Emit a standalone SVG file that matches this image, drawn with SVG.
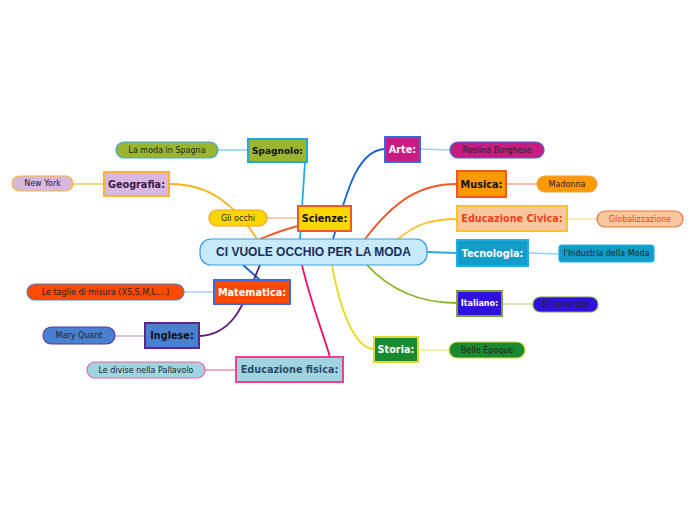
<svg xmlns="http://www.w3.org/2000/svg" width="696" height="520" viewBox="0 0 696 520">
<style>
.t{font-family:"DejaVu Sans",Verdana,sans-serif;font-weight:bold;font-size:9.7px;text-anchor:middle;dominant-baseline:central}
.s{font-family:"DejaVu Sans",Verdana,sans-serif;font-size:8px;text-anchor:middle;dominant-baseline:central;fill:#222}
.n{stroke-width:2}
.p{stroke-width:1.2}
.c{fill:none;stroke-width:1.8}
.l{fill:none;stroke-width:1.4}
</style>
<rect width="696" height="520" fill="#ffffff"/>
<g id="connectors">
<path class="c" d="M300,239 C302,210 303,190 305,162" stroke="#1eaee6"/>
<path class="c" d="M170,184 C210,184 235,205 257,239" stroke="#f7b31c"/>
<path class="c" d="M260,239 C275,233 285,229 298,226" stroke="#f0582a"/>
<path class="c" d="M333,239 C345,200 355,150 385,149" stroke="#1a5fd4"/>
<path class="c" d="M365,239 C395,200 420,184 457,184" stroke="#f0582a"/>
<path class="c" d="M398,239 C415,225 430,219 457,219" stroke="#ffc02a"/>
<path class="c" d="M427,252 L457,253" stroke="#2aa6e0"/>
<path class="c" d="M367,265 C390,290 420,303 457,303" stroke="#86b21e"/>
<path class="c" d="M332,265 C340,310 355,349 374,349" stroke="#e8d81c"/>
<path class="c" d="M302,265 C310,300 322,330 330,357" stroke="#f0106a"/>
<path class="c" d="M243,265 L260,280" stroke="#1a5fd4"/>
<path class="c" d="M260,265 C245,300 235,335 199,336" stroke="#5a1a7a"/>
<path class="l" d="M218,150 L248,150" stroke="#7fd0f0"/>
<path class="l" d="M73,184 L104,184" stroke="#f9c44d"/>
<path class="l" d="M267,218 L298,218" stroke="#f9b6a0"/>
<path class="l" d="M420,149 L450,150" stroke="#a6c8f2"/>
<path class="l" d="M506,184 L537,184" stroke="#f8a090"/>
<path class="l" d="M567,219 L597,219" stroke="#fde2a0"/>
<path class="l" d="M528,253 L559,254" stroke="#8ad5f5"/>
<path class="l" d="M502,304 L533,304" stroke="#c8e090"/>
<path class="l" d="M418,350 L449,350" stroke="#f0e890"/>
<path class="l" d="M205,370 L236,370" stroke="#f080b0"/>
<path class="l" d="M184,292 L214,292" stroke="#a6c8f2"/>
<path class="l" d="M115,336 L145,336" stroke="#c8b0d8"/>
</g>
<g id="center">
<rect x="200" y="239" width="227" height="26" rx="11" fill="#c6eafa" stroke="#3a9be0" stroke-width="1.2"/>
<text x="313.5" y="252" style="font-family:'Liberation Sans',Arial,sans-serif;font-weight:bold;font-size:12px;text-anchor:middle;dominant-baseline:central" fill="#1a2d5a">CI VUOLE OCCHIO PER LA MODA</text>
</g>
<g id="spagnolo">
<rect class="n" x="248" y="139" width="59" height="23" fill="#9ab52f" stroke="#25a7d8"/>
<text class="t" x="277.5" y="150.5" style="font-size:9px" fill="#111">Spagnolo:</text>
</g>
<g id="moda-spagna">
<rect class="p" x="116" y="142" width="102" height="16" rx="8" fill="#9ab52f" stroke="#3aa8dc"/>
<text class="s" x="167" y="150">La moda in Spagna</text>
</g>
<g id="geografia">
<rect class="n" x="104" y="172" width="65" height="24" fill="#d9b8e0" stroke="#f7b533"/>
<text class="t" x="136.5" y="184" fill="#3a1a4a">Geografia:</text>
</g>
<g id="new-york">
<rect class="p" x="12" y="176" width="61" height="15" rx="7.5" fill="#d9b8e0" stroke="#f7b533"/>
<text class="s" x="42.5" y="183.5">New York</text>
</g>
<g id="scienze">
<rect class="n" x="298" y="206" width="53" height="25" fill="#ffd700" stroke="#f0582a"/>
<text class="t" x="324.5" y="218.5" fill="#111">Scienze:</text>
</g>
<g id="gli-occhi">
<rect class="p" x="209" y="210" width="58" height="16" rx="8" fill="#ffd700" stroke="#f7a020"/>
<text class="s" x="238" y="218">Gli occhi</text>
</g>
<g id="arte">
<rect class="n" x="385" y="137" width="35" height="25" fill="#c81c80" stroke="#3a6ad9"/>
<text class="t" x="402.5" y="149.5" fill="#ffffff">Arte:</text>
</g>
<g id="paolina">
<rect class="p" x="450" y="142" width="94" height="16" rx="8" fill="#c81c80" stroke="#3a6ad9"/>
<text class="s" x="497" y="150">Paolina Borghese</text>
</g>
<g id="musica">
<rect class="n" x="457" y="171" width="49" height="26" fill="#ff9900" stroke="#f0582a"/>
<text class="t" x="481.5" y="184" fill="#111">Musica:</text>
</g>
<g id="madonna">
<rect class="p" x="537" y="176" width="60" height="16" rx="8" fill="#ff9900" stroke="#f7a040"/>
<text class="s" x="567" y="184">Madonna</text>
</g>
<g id="ed-civica">
<rect class="n" x="457" y="206" width="110" height="25" fill="#f7c89e" stroke="#ffc030"/>
<text class="t" x="512" y="218.5" fill="#f0401a">Educazione Civica:</text>
</g>
<g id="globalizzazione">
<rect class="p" x="597" y="211" width="86" height="16" rx="8" fill="#f7c89e" stroke="#f0703a"/>
<text class="s" x="640" y="219" fill="#f0401a" style="fill:#f0401a">Globalizzazione</text>
</g>
<g id="tecnologia">
<rect class="n" x="457" y="240" width="71" height="26" fill="#149cc8" stroke="#1eaee6"/>
<text class="t" x="492.5" y="253" fill="#ffffff">Tecnologia:</text>
</g>
<g id="industria">
<rect class="p" x="559" y="245" width="95" height="17" rx="3" fill="#149cc8" stroke="#20b0e0"/>
<text class="s" x="606.5" y="253.5">l'Industria della Moda</text>
</g>
<g id="italiano">
<rect class="n" x="457" y="291" width="45" height="25" fill="#3010e0" stroke="#7aa040"/>
<text class="t" x="479.5" y="303.5" style="font-size:8px" fill="#ffffff">Italiano:</text>
</g>
<g id="annunzio">
<rect class="p" x="533" y="297" width="65" height="15" rx="7.5" fill="#3010e0" stroke="#7aa040"/>
<text class="s" x="565.5" y="304.5">D' annunzio</text>
</g>
<g id="storia">
<rect class="n" x="374" y="337" width="44" height="25" fill="#1a8a30" stroke="#e0d830"/>
<text class="t" x="396" y="349.5" fill="#ffffff">Storia:</text>
</g>
<g id="belle-epoque">
<rect class="p" x="449" y="342" width="76" height="16" rx="8" fill="#1a8a30" stroke="#d8d840"/>
<text class="s" x="487" y="350">Belle Époque</text>
</g>
<g id="ed-fisica">
<rect class="n" x="236" y="357" width="107" height="25" fill="#a0d4e0" stroke="#f04090"/>
<text class="t" x="289.5" y="369.5" fill="#2a4a6a">Educazione fisica:</text>
</g>
<g id="divise">
<rect class="p" x="87" y="362" width="118" height="16" rx="8" fill="#a0d4e0" stroke="#f060a0"/>
<text class="s" x="146" y="370">Le divise nella Pallavolo</text>
</g>
<g id="matematica">
<rect class="n" x="214" y="280" width="76" height="24" fill="#ff4a00" stroke="#3a6ad9"/>
<text class="t" x="252" y="292" fill="#ffffff">Matematica:</text>
</g>
<g id="taglie">
<rect class="p" x="27" y="284" width="157" height="16" rx="8" fill="#ff4a00" stroke="#4a80d0"/>
<text class="s" x="105.5" y="292">Le taglie di misura (XS,S,M,L....)</text>
</g>
<g id="inglese">
<rect class="n" x="145" y="323" width="54" height="25" fill="#4a80d0" stroke="#5a2a8a"/>
<text class="t" x="172" y="335.5" fill="#111">Inglese:</text>
</g>
<g id="mary-quant">
<rect class="p" x="43" y="327" width="72" height="17" rx="8.5" fill="#4a80d0" stroke="#5a3a9a"/>
<text class="s" x="79" y="335.5">Mary Quant</text>
</g>
</svg>
